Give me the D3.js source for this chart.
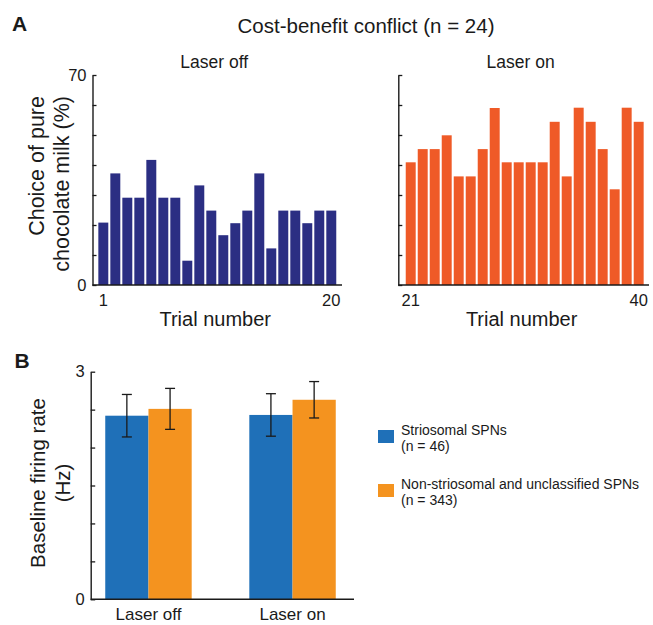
<!DOCTYPE html>
<html>
<head>
<meta charset="utf-8">
<script src="https://cdn.jsdelivr.net/npm/d3@7"></script>
<style>
  html, body { margin: 0; padding: 0; background: #fff; }
  svg { display: block; font-family: "Liberation Sans", Arial, Helvetica, sans-serif; }
</style>
</head>
<body>
<svg id="chart" width="653" height="625"></svg>
<script>
// ---------- DATA ----------
const trialsOff = [1,2,3,4,5,6,7,8,9,10,11,12,13,14,15,16,17,18,19,20];
const trialsOn  = [21,22,23,24,25,26,27,28,29,30,31,32,33,34,35,36,37,38,39,40];
const choiceOff = [20.8, 37.2, 29.1, 29.1, 41.7, 29.1, 29.1, 8.1, 33.2, 24.8, 16.6, 20.6, 24.8, 37.2, 12.2, 24.8, 24.8, 20.6, 24.8, 24.8];
const choiceOn  = [40.9, 45.3, 45.3, 49.9, 36.2, 36.2, 45.3, 59.0, 40.9, 40.9, 40.9, 40.9, 54.4, 36.2, 59.1, 54.4, 45.3, 31.9, 59.1, 54.4];
const choiceTicks = [0,10,20,30,40,50,60,70];
const choiceTickLabels = ["0","","","","","","","70"];
const offTickLabels = [1, 20];
const onTickLabels = [21, 40];

const conditions = ["Laser off", "Laser on"];
const neuronGroups = ["Striosomal SPNs", "Non-striosomal and unclassified SPNs"];
const groupCounts = ["(n = 46)", "(n = 343)"];
const rateStriosomal = [2.42, 2.43];
const rateNonStriosomal = [2.51, 2.63];
const semStriosomal = [0.28, 0.28];
const semNonStriosomal = [0.27, 0.24];
const rateTicks = [0, 0.5, 1, 1.5, 2, 2.5, 3];
const rateTickLabels = ["0","","","","","","3"];

// ---------- STYLE ----------
const navy = "#2b2e83", red = "#ef5a27", blue = "#1f70b8", orange = "#f4931f";
const ink = "#1a1a1a";

const svg = d3.select("#chart");

// ---------- PANEL A ----------
const yA = d3.scaleLinear().domain([0, 70]).range([285, 75]);

function drawTrialPanel(axisX, r0, r1, xEnd, trials, values, color, tickVals, subtitle, showYLabels) {
  const x = d3.scaleBand().domain(trials).range([r0, r1]).paddingInner(0.17).paddingOuter(0.17);
  const g = svg.append("g");
  g.selectAll("rect").data(values).join("rect")
    .attr("x", (d, i) => x(trials[i]))
    .attr("y", d => yA(d))
    .attr("width", x.bandwidth())
    .attr("height", d => yA(0) - yA(d))
    .attr("fill", color);

  const yAxis = d3.axisLeft(yA).tickValues(choiceTicks)
    .tickFormat((d, i) => showYLabels ? choiceTickLabels[i] : "")
    .tickSizeInner(-4).tickSizeOuter(0).tickPadding(6);
  const ga = g.append("g").attr("transform", `translate(${axisX},0)`).call(yAxis);
  ga.select(".domain").attr("stroke", ink).attr("stroke-width", 1.4);
  ga.selectAll(".tick line").attr("stroke", ink).attr("stroke-width", 1.3);
  ga.selectAll("text").attr("font-size", 16.5).attr("fill", ink).attr("font-family", "Liberation Sans, Arial, sans-serif");

  g.append("line").attr("x1", axisX).attr("x2", xEnd).attr("y1", yA(0)).attr("y2", yA(0))
    .attr("stroke", ink).attr("stroke-width", 1.4);

  const xAxis = d3.axisBottom(x).tickValues(tickVals).tickSize(0).tickPadding(9.5);
  const gx = g.append("g").attr("transform", `translate(0,${yA(0)})`).call(xAxis);
  gx.select(".domain").remove();
  gx.selectAll("text").attr("font-size", 16.5).attr("fill", ink).attr("font-family", "Liberation Sans, Arial, sans-serif");

  g.append("text").attr("x", (axisX + xEnd) / 2 - 2).attr("y", 326)
    .attr("text-anchor", "middle").attr("font-size", 20).attr("fill", ink).text("Trial number");
  g.append("text").attr("x", (axisX + xEnd) / 2 - 3).attr("y", 68)
    .attr("text-anchor", "middle").attr("font-size", 17.5).attr("fill", ink).text(subtitle);
}

drawTrialPanel(92.5, 96.3, 338.3, 342, trialsOff, choiceOff, navy, offTickLabels, "Laser off", true);
drawTrialPanel(398.3, 403.7, 645.7, 649, trialsOn, choiceOn, red, onTickLabels, "Laser on", false);

// y-axis title A
const yTitleA = ["Choice of pure", "chocolate milk (%)"];
yTitleA.forEach((t, i) => {
  svg.append("text").attr("transform", `translate(${44 + i * 24.5},96) rotate(-90)`)
    .attr("text-anchor", "end").attr("font-size", 21.5).attr("fill", ink).text(t);
});

// title and panel letters
svg.append("text").attr("x", 366).attr("y", 33).attr("text-anchor", "middle")
  .attr("font-size", 20.5).attr("fill", ink).text("Cost-benefit conflict (n = 24)");
svg.append("text").attr("x", 12).attr("y", 31).attr("font-size", 21).attr("font-weight", "bold")
  .attr("fill", ink).text("A");
svg.append("text").attr("x", 14.5).attr("y", 368).attr("font-size", 21).attr("font-weight", "bold")
  .attr("fill", ink).text("B");

// ---------- PANEL B ----------
const yB = d3.scaleLinear().domain([0, 3]).range([599.3, 371.7]);
const xB = d3.scaleBand().domain(conditions).range([90.7, 350.3]).paddingInner(0.4).paddingOuter(0.101);
const xSub = d3.scaleBand().domain(neuronGroups).range([0, xB.bandwidth()]);
const seriesB = [
  { name: neuronGroups[0], color: blue, means: rateStriosomal, sems: semStriosomal },
  { name: neuronGroups[1], color: orange, means: rateNonStriosomal, sems: semNonStriosomal }
];
const bars = [];
seriesB.forEach(s => conditions.forEach((c, i) => bars.push({ cond: c, name: s.name, color: s.color, m: s.means[i], e: s.sems[i] })));

const gB = svg.append("g");
gB.selectAll("rect.bar").data(bars).join("rect").attr("class", "bar")
  .attr("x", d => xB(d.cond) + xSub(d.name))
  .attr("y", d => yB(d.m))
  .attr("width", xSub.bandwidth())
  .attr("height", d => yB(0) - yB(d.m))
  .attr("fill", d => d.color);

const eb = gB.selectAll("g.err").data(bars).join("g").attr("class", "err")
  .attr("transform", d => `translate(${xB(d.cond) + xSub(d.name) + xSub.bandwidth() / 2},0)`);
eb.append("line").attr("y1", d => yB(d.m + d.e)).attr("y2", d => yB(d.m - d.e)).attr("stroke", ink).attr("stroke-width", 1.3);
eb.append("line").attr("x1", -5).attr("x2", 5).attr("y1", d => yB(d.m + d.e)).attr("y2", d => yB(d.m + d.e)).attr("stroke", ink).attr("stroke-width", 1.3);
eb.append("line").attr("x1", -5).attr("x2", 5).attr("y1", d => yB(d.m - d.e)).attr("y2", d => yB(d.m - d.e)).attr("stroke", ink).attr("stroke-width", 1.3);

const yAxisB = d3.axisLeft(yB).tickValues(rateTicks).tickFormat((d, i) => rateTickLabels[i])
  .tickSizeInner(-4.5).tickSizeOuter(0).tickPadding(6);
const gyB = gB.append("g").attr("transform", "translate(90.7,0)").call(yAxisB);
gyB.select(".domain").attr("stroke", ink).attr("stroke-width", 1.4);
gyB.selectAll(".tick line").attr("stroke", ink).attr("stroke-width", 1.3);
gyB.selectAll("text").attr("font-size", 16.5).attr("fill", ink).attr("font-family", "Liberation Sans, Arial, sans-serif");

gB.append("line").attr("x1", 90.7).attr("x2", 354).attr("y1", yB(0)).attr("y2", yB(0)).attr("stroke", ink).attr("stroke-width", 1.4);
const gxB = gB.append("g").attr("transform", `translate(0,${yB(0)})`)
  .call(d3.axisBottom(xB).tickSize(0).tickPadding(8.5));
gxB.select(".domain").remove();
gxB.selectAll("text").attr("font-size", 17).attr("fill", ink).attr("font-family", "Liberation Sans, Arial, sans-serif");

const yTitleB = ["Baseline firing rate", "(Hz)"];
yTitleB.forEach((t, i) => {
  svg.append("text").attr("transform", `translate(${45 + i * 24.5},483) rotate(-90)`)
    .attr("text-anchor", "middle").attr("font-size", 20.5).attr("fill", ink).text(t);
});

// legend
const legendY = [430, 484];
seriesB.forEach((s, i) => {
  const lg = svg.append("g").attr("transform", `translate(378,${legendY[i]})`);
  lg.append("rect").attr("width", 16).attr("height", 13).attr("fill", s.color);
  lg.append("text").attr("x", 23).attr("y", 5).attr("font-size", 14).attr("fill", ink).text(s.name);
  lg.append("text").attr("x", 23).attr("y", 20.5).attr("font-size", 14).attr("fill", ink).text(groupCounts[i]);
});
</script>
</body>
</html>
